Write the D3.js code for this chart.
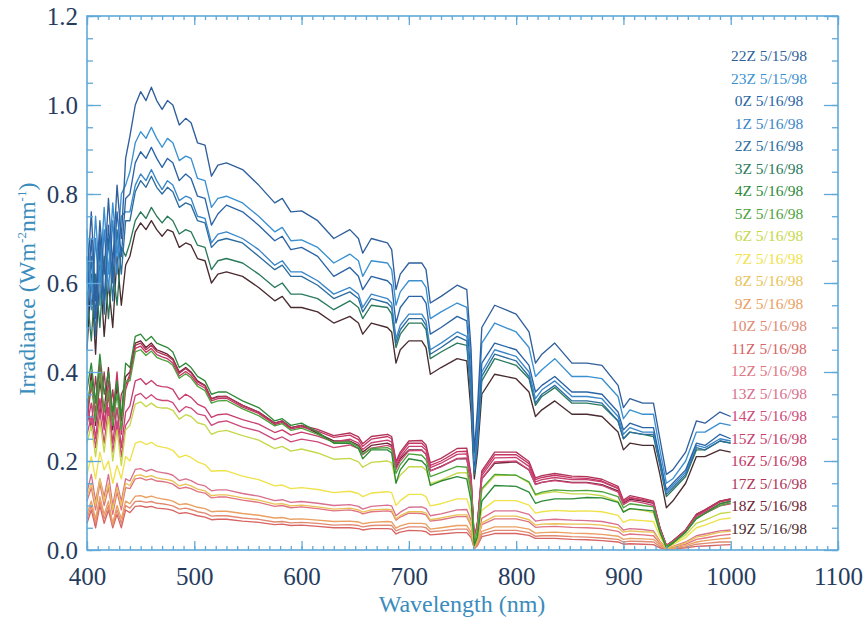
<!DOCTYPE html>
<html>
<head>
<meta charset="utf-8">
<script src="https://cdn.jsdelivr.net/npm/d3@7"></script>
<style>
  body { margin: 0; background: #ffffff; }
  svg { display: block; }
</style>
</head>
<body>
<svg id="chart" width="865" height="617"></svg>
<script>
// Sampling wavelengths (nm) shared by all spectra
const wavelengths = [400,404,408,412,416,420,424,428,432,436,
  440,445,450,455,460,465,470,475,480,
  486,492,497,503,510,516,522,530,545,560,575,582,590,600,
  615,630,645,653,657,665,680,684,688,692,700,
  712,716,720,730,745,754,758,761,764,768,780,
  800,812,818,824,836,852,866,880,895,900,906,918,928,
  934,940,946,958,968,976,990,1000];

// Irradiance spectra (W m-2 nm-1), one array per hour
const irr22Z = [0.60,0.76,0.56,0.74,0.62,0.79,0.64,0.82,0.70,0.88,
  0.93,1.00,1.03,1.01,1.04,1.01,0.99,1.01,1.00,
  0.955,0.97,0.96,0.915,0.91,0.84,0.865,0.87,0.855,0.82,0.78,0.79,0.76,0.762,
  0.74,0.70,0.72,0.70,0.667,0.70,0.69,0.675,0.585,0.62,0.645,
  0.645,0.63,0.555,0.57,0.595,0.585,0.45,0.22,0.32,0.50,0.55,
  0.53,0.49,0.42,0.44,0.465,0.42,0.42,0.415,0.37,0.32,0.34,0.33,0.33,
  0.25,0.17,0.18,0.22,0.29,0.285,0.31,0.30];
const irr23Z = [0.72,0.58,0.75,0.60,0.77,0.62,0.78,0.66,0.80,0.82,
  0.85,0.915,0.94,0.925,0.95,0.925,0.905,0.925,0.915,
  0.875,0.885,0.88,0.835,0.83,0.77,0.79,0.795,0.78,0.75,0.715,0.725,0.695,0.697,
  0.68,0.645,0.665,0.65,0.615,0.65,0.645,0.63,0.55,0.58,0.605,
  0.605,0.59,0.52,0.535,0.555,0.545,0.42,0.20,0.29,0.465,0.51,
  0.49,0.455,0.39,0.405,0.43,0.39,0.39,0.385,0.345,0.295,0.315,0.305,0.305,
  0.225,0.15,0.16,0.20,0.265,0.265,0.285,0.28];
const irr0Z = [0.55,0.70,0.52,0.71,0.56,0.73,0.60,0.76,0.66,0.79,
  0.80,0.87,0.895,0.88,0.905,0.88,0.86,0.88,0.87,
  0.83,0.845,0.835,0.795,0.79,0.73,0.755,0.775,0.76,0.73,0.695,0.705,0.675,0.68,
  0.66,0.615,0.635,0.615,0.585,0.615,0.605,0.595,0.51,0.545,0.57,
  0.57,0.555,0.485,0.50,0.525,0.515,0.39,0.19,0.27,0.42,0.465,
  0.45,0.415,0.355,0.37,0.39,0.355,0.355,0.35,0.31,0.27,0.285,0.275,0.275,
  0.205,0.135,0.15,0.18,0.24,0.235,0.26,0.25];
const irr1Z = [0.66,0.54,0.70,0.55,0.72,0.58,0.74,0.62,0.75,0.76,
  0.76,0.82,0.845,0.83,0.855,0.83,0.81,0.83,0.82,
  0.785,0.795,0.79,0.75,0.745,0.69,0.71,0.715,0.70,0.675,0.64,0.65,0.625,0.625,
  0.605,0.575,0.59,0.575,0.545,0.575,0.565,0.555,0.475,0.505,0.53,
  0.53,0.515,0.45,0.465,0.49,0.48,0.36,0.18,0.25,0.40,0.45,
  0.435,0.40,0.34,0.36,0.38,0.345,0.345,0.34,0.30,0.26,0.275,0.265,0.265,
  0.20,0.13,0.145,0.175,0.235,0.23,0.25,0.245];
const irr2Z = [0.50,0.66,0.48,0.68,0.53,0.70,0.56,0.72,0.62,0.74,
  0.74,0.805,0.83,0.815,0.84,0.815,0.80,0.815,0.805,
  0.77,0.78,0.775,0.74,0.735,0.68,0.695,0.70,0.69,0.66,0.63,0.64,0.615,0.615,
  0.595,0.565,0.58,0.565,0.535,0.565,0.555,0.545,0.465,0.495,0.52,
  0.52,0.505,0.44,0.455,0.48,0.47,0.35,0.175,0.245,0.39,0.44,
  0.425,0.39,0.33,0.35,0.37,0.335,0.335,0.33,0.29,0.25,0.265,0.26,0.26,
  0.195,0.125,0.14,0.17,0.23,0.225,0.245,0.24];
const irr3Z = [0.58,0.47,0.62,0.50,0.66,0.52,0.64,0.55,0.68,0.66,
  0.69,0.74,0.76,0.745,0.77,0.75,0.735,0.75,0.74,
  0.71,0.72,0.715,0.685,0.68,0.63,0.65,0.655,0.645,0.62,0.59,0.60,0.575,0.575,
  0.565,0.54,0.56,0.545,0.52,0.55,0.545,0.53,0.455,0.485,0.51,
  0.51,0.495,0.43,0.445,0.465,0.46,0.34,0.17,0.24,0.38,0.43,
  0.415,0.385,0.325,0.345,0.365,0.33,0.33,0.325,0.29,0.25,0.265,0.26,0.255,
  0.19,0.12,0.135,0.165,0.225,0.225,0.245,0.24];
const irr4Z = [0.36,0.42,0.33,0.44,0.35,0.40,0.31,0.38,0.30,0.42,
  0.41,0.48,0.485,0.47,0.48,0.465,0.46,0.455,0.445,
  0.41,0.42,0.41,0.39,0.38,0.35,0.355,0.355,0.335,0.32,0.29,0.295,0.28,0.285,
  0.265,0.24,0.24,0.228,0.205,0.225,0.225,0.218,0.15,0.18,0.205,
  0.20,0.19,0.145,0.155,0.165,0.16,0.11,0.01,0.03,0.11,0.145,
  0.143,0.13,0.105,0.11,0.115,0.115,0.118,0.117,0.107,0.085,0.093,0.09,0.088,
  0.04,0.005,0.015,0.04,0.07,0.082,0.104,0.11];
const irr5Z = [0.32,0.38,0.29,0.40,0.31,0.36,0.28,0.35,0.27,0.38,
  0.38,0.445,0.45,0.437,0.447,0.433,0.428,0.424,0.415,
  0.386,0.396,0.387,0.368,0.358,0.33,0.335,0.336,0.317,0.302,0.279,0.284,0.269,0.274,
  0.26,0.242,0.243,0.232,0.216,0.228,0.23,0.225,0.172,0.192,0.216,
  0.213,0.203,0.165,0.174,0.188,0.186,0.132,0.015,0.045,0.138,0.17,
  0.168,0.153,0.125,0.13,0.135,0.133,0.134,0.131,0.12,0.095,0.104,0.1,0.097,
  0.044,0.008,0.017,0.04,0.072,0.082,0.1,0.106];
const irr6Z = [0.24,0.28,0.21,0.29,0.22,0.30,0.20,0.27,0.19,0.27,
  0.28,0.328,0.333,0.322,0.33,0.321,0.319,0.319,0.314,
  0.294,0.304,0.3,0.286,0.281,0.26,0.266,0.269,0.257,0.247,0.228,0.233,0.222,0.227,
  0.218,0.204,0.206,0.198,0.186,0.197,0.2,0.196,0.152,0.168,0.187,
  0.187,0.18,0.149,0.157,0.173,0.174,0.126,0.016,0.047,0.135,0.167,
  0.168,0.151,0.123,0.127,0.131,0.126,0.126,0.122,0.109,0.086,0.093,0.089,0.084,
  0.038,0.008,0.015,0.034,0.06,0.067,0.082,0.085];
const irr7Z = [0.17,0.21,0.16,0.22,0.18,0.20,0.15,0.19,0.16,0.21,
  0.2,0.24,0.244,0.237,0.242,0.234,0.231,0.229,0.224,
  0.208,0.213,0.208,0.198,0.192,0.177,0.178,0.178,0.166,0.158,0.144,0.146,0.138,0.14,
  0.136,0.129,0.132,0.127,0.12,0.128,0.131,0.129,0.1,0.111,0.125,
  0.125,0.12,0.099,0.104,0.115,0.115,0.084,0.01,0.031,0.089,0.111,
  0.111,0.101,0.083,0.086,0.089,0.087,0.088,0.086,0.078,0.062,0.068,0.066,0.064,
  0.03,0.006,0.012,0.028,0.05,0.056,0.069,0.072];
const irr8Z = [0.12,0.15,0.10,0.16,0.11,0.15,0.09,0.14,0.10,0.15,
  0.145,0.167,0.169,0.164,0.167,0.162,0.16,0.158,0.155,
  0.144,0.148,0.144,0.137,0.133,0.122,0.124,0.124,0.117,0.112,0.103,0.104,0.099,0.101,
  0.097,0.092,0.094,0.09,0.085,0.09,0.092,0.09,0.07,0.077,0.086,
  0.086,0.083,0.068,0.072,0.079,0.079,0.058,0.007,0.022,0.061,0.076,
  0.076,0.068,0.056,0.058,0.059,0.058,0.058,0.056,0.05,0.04,0.043,0.041,0.04,
  0.018,0.004,0.007,0.016,0.029,0.032,0.04,0.042];
const irr9Z = [0.08,0.11,0.07,0.12,0.08,0.11,0.06,0.10,0.07,0.11,
  0.104,0.121,0.122,0.118,0.121,0.117,0.115,0.113,0.11,
  0.102,0.104,0.101,0.096,0.093,0.086,0.087,0.087,0.082,0.078,0.072,0.073,0.069,0.07,
  0.067,0.064,0.065,0.063,0.059,0.062,0.064,0.063,0.049,0.054,0.06,
  0.06,0.058,0.047,0.05,0.055,0.055,0.04,0.005,0.015,0.042,0.052,
  0.052,0.047,0.038,0.039,0.04,0.038,0.037,0.035,0.031,0.024,0.026,0.025,0.024,
  0.011,0.002,0.004,0.01,0.018,0.021,0.025,0.027];
const irr10Z = [0.07,0.10,0.06,0.11,0.07,0.10,0.055,0.09,0.06,0.10,
  0.094,0.109,0.11,0.107,0.109,0.105,0.104,0.102,0.099,
  0.092,0.094,0.091,0.086,0.083,0.076,0.077,0.077,0.072,0.069,0.063,0.064,0.061,0.062,
  0.06,0.056,0.057,0.055,0.052,0.055,0.056,0.055,0.043,0.047,0.052,
  0.052,0.05,0.041,0.043,0.047,0.047,0.034,0.004,0.013,0.036,0.044,
  0.044,0.039,0.031,0.032,0.032,0.03,0.029,0.027,0.024,0.018,0.02,0.019,0.018,
  0.008,0.002,0.003,0.007,0.013,0.015,0.018,0.018];
const irr11Z = [0.06,0.09,0.05,0.10,0.06,0.09,0.05,0.08,0.05,0.09,
  0.084,0.098,0.099,0.096,0.098,0.094,0.093,0.092,0.089,
  0.082,0.084,0.081,0.077,0.074,0.068,0.069,0.069,0.065,0.062,0.057,0.058,0.055,0.056,
  0.053,0.05,0.05,0.048,0.045,0.048,0.048,0.047,0.036,0.04,0.044,
  0.043,0.041,0.034,0.036,0.039,0.039,0.028,0.003,0.01,0.03,0.037,
  0.037,0.033,0.026,0.026,0.026,0.024,0.023,0.021,0.018,0.013,0.014,0.013,0.012,
  0.005,0.001,0.002,0.005,0.008,0.009,0.011,0.012];
const irr12Z = [0.11,0.14,0.09,0.15,0.10,0.14,0.08,0.13,0.09,0.14,
  0.138,0.16,0.162,0.157,0.16,0.155,0.154,0.152,0.148,
  0.138,0.141,0.138,0.131,0.128,0.117,0.119,0.119,0.112,0.107,0.098,0.1,0.095,0.097,
  0.093,0.088,0.09,0.086,0.081,0.086,0.088,0.086,0.067,0.074,0.083,
  0.082,0.079,0.065,0.068,0.075,0.075,0.054,0.006,0.02,0.057,0.07,
  0.07,0.063,0.051,0.052,0.053,0.051,0.05,0.048,0.042,0.033,0.036,0.034,0.032,
  0.015,0.003,0.006,0.013,0.024,0.027,0.033,0.035];
const irr13Z = [0.13,0.17,0.11,0.16,0.12,0.17,0.10,0.15,0.11,0.16,
  0.155,0.181,0.183,0.177,0.181,0.176,0.174,0.172,0.168,
  0.156,0.16,0.156,0.148,0.144,0.133,0.135,0.135,0.127,0.121,0.111,0.113,0.107,0.109,
  0.105,0.1,0.102,0.098,0.092,0.098,0.101,0.099,0.077,0.085,0.096,
  0.097,0.093,0.077,0.081,0.09,0.091,0.067,0.008,0.025,0.071,0.088,
  0.088,0.08,0.065,0.067,0.069,0.067,0.066,0.064,0.057,0.045,0.048,0.046,0.043,
  0.02,0.004,0.008,0.018,0.032,0.036,0.043,0.045];
const irr14Z = [0.26,0.30,0.23,0.31,0.24,0.32,0.22,0.29,0.21,0.28,
  0.296,0.347,0.352,0.34,0.349,0.339,0.336,0.336,0.331,
  0.31,0.322,0.319,0.306,0.302,0.28,0.287,0.29,0.276,0.267,0.248,0.254,0.243,0.249,
  0.243,0.23,0.236,0.228,0.214,0.229,0.235,0.231,0.181,0.2,0.223,
  0.224,0.215,0.178,0.187,0.206,0.207,0.15,0.02,0.056,0.16,0.198,
  0.2,0.18,0.147,0.152,0.156,0.151,0.151,0.145,0.13,0.102,0.111,0.106,0.1,
  0.046,0.009,0.018,0.041,0.073,0.082,0.099,0.104];
const irr15Z = [0.28,0.33,0.25,0.34,0.27,0.35,0.24,0.32,0.23,0.31,
  0.324,0.38,0.385,0.372,0.381,0.37,0.367,0.366,0.361,
  0.338,0.35,0.343,0.328,0.32,0.298,0.304,0.306,0.293,0.283,0.264,0.27,0.258,0.265,
  0.256,0.243,0.249,0.24,0.226,0.241,0.247,0.243,0.19,0.209,0.233,
  0.233,0.224,0.185,0.195,0.215,0.216,0.157,0.02,0.059,0.167,0.207,
  0.208,0.188,0.153,0.158,0.163,0.158,0.158,0.153,0.138,0.108,0.117,0.112,0.106,
  0.048,0.01,0.019,0.043,0.076,0.085,0.104,0.109];
const irr16Z = [0.29,0.37,0.31,0.42,0.28,0.38,0.30,0.40,0.26,0.36,
  0.39,0.453,0.458,0.444,0.453,0.439,0.434,0.43,0.42,
  0.391,0.401,0.392,0.373,0.364,0.335,0.34,0.341,0.321,0.307,0.282,0.287,0.272,0.277,
  0.267,0.253,0.258,0.248,0.233,0.249,0.255,0.25,0.195,0.215,0.24,
  0.24,0.23,0.19,0.2,0.221,0.222,0.162,0.02,0.061,0.173,0.214,
  0.214,0.194,0.158,0.163,0.168,0.162,0.161,0.155,0.139,0.109,0.118,0.113,0.107,
  0.049,0.01,0.02,0.044,0.078,0.088,0.108,0.113];
const irr17Z = [0.34,0.27,0.39,0.30,0.40,0.29,0.36,0.26,0.35,0.37,
  0.395,0.46,0.465,0.45,0.46,0.446,0.441,0.436,0.427,
  0.397,0.408,0.398,0.378,0.369,0.339,0.344,0.345,0.325,0.31,0.285,0.29,0.275,0.28,
  0.271,0.257,0.263,0.254,0.239,0.255,0.26,0.255,0.199,0.22,0.245,
  0.246,0.236,0.196,0.206,0.228,0.229,0.167,0.02,0.062,0.178,0.22,
  0.22,0.199,0.162,0.167,0.172,0.166,0.165,0.159,0.143,0.112,0.122,0.116,0.11,
  0.05,0.01,0.02,0.045,0.08,0.09,0.11,0.115];
const irr18Z = [0.30,0.40,0.28,0.38,0.31,0.41,0.27,0.37,0.29,0.39,
  0.40,0.465,0.47,0.455,0.465,0.45,0.445,0.44,0.43,
  0.40,0.41,0.40,0.38,0.37,0.34,0.345,0.345,0.325,0.31,0.285,0.29,0.275,0.28,
  0.262,0.245,0.245,0.235,0.22,0.235,0.24,0.235,0.185,0.205,0.225,
  0.225,0.215,0.178,0.188,0.205,0.205,0.15,0.02,0.06,0.16,0.195,
  0.198,0.18,0.148,0.152,0.157,0.152,0.152,0.147,0.133,0.105,0.114,0.11,0.105,
  0.05,0.01,0.02,0.045,0.08,0.09,0.11,0.115];
const irr19Z = [0.45,0.62,0.44,0.64,0.48,0.60,0.50,0.66,0.55,0.64,
  0.66,0.715,0.735,0.72,0.74,0.72,0.705,0.72,0.715,
  0.68,0.69,0.685,0.655,0.65,0.60,0.62,0.625,0.615,0.59,0.56,0.57,0.545,0.545,
  0.535,0.51,0.525,0.51,0.485,0.51,0.50,0.49,0.42,0.45,0.47,
  0.47,0.455,0.395,0.41,0.43,0.425,0.31,0.16,0.22,0.35,0.395,
  0.385,0.355,0.30,0.315,0.335,0.305,0.305,0.30,0.265,0.225,0.24,0.235,0.235,
  0.17,0.095,0.11,0.15,0.21,0.21,0.225,0.22];

// Legend entries (top to bottom) and the spectrum each one names
const hourLabels = ["22Z 5/15/98","23Z 5/15/98","0Z 5/16/98","1Z 5/16/98","2Z 5/16/98",
  "3Z 5/16/98","4Z 5/16/98","5Z 5/16/98","6Z 5/16/98","7Z 5/16/98","8Z 5/16/98",
  "9Z 5/16/98","10Z 5/16/98","11Z 5/16/98","12Z 5/16/98","13Z 5/16/98","14Z 5/16/98",
  "15Z 5/16/98","16Z 5/16/98","17Z 5/16/98","18Z 5/16/98","19Z 5/16/98"];
const hourSpectra = [irr22Z, irr23Z, irr0Z, irr1Z, irr2Z, irr3Z, irr4Z, irr5Z, irr6Z,
  irr7Z, irr8Z, irr9Z, irr10Z, irr11Z, irr12Z, irr13Z, irr14Z, irr15Z, irr16Z,
  irr17Z, irr18Z, irr19Z];
const hourColors = ["#2f5f9c","#3a90d0","#2a64a6","#3a86c8","#2c6c9e","#2b7a5c",
  "#2e8a38","#4ea23c","#c6d84a","#efe24a","#e8c256","#e9a062","#e08a72","#d86464",
  "#e07482","#d8708e","#cc4a7a","#c83e6e","#c43664","#b03458","#6e2434","#4a2c30"];

// Axis tick values
const xMajorTicks = [400,500,600,700,800,900,1000,1100];
const xMinorTicks = d3.range(400, 1101, 10);
const yMajorTicks = [0.0,0.2,0.4,0.6,0.8,1.0,1.2];
const yMinorTicks = d3.range(0, 1.2001, 0.05);

const svg = d3.select("#chart");
const plotLeft = 87, plotRight = 838, plotTop = 16, plotBottom = 550;
const axisColor = "#5fa9d9";
const labelColor = "#263c5e";
const serif = "'Liberation Serif','Times New Roman',serif";

const x = d3.scaleLinear().domain([400, 1100]).range([plotLeft, plotRight]);
const y = d3.scaleLinear().domain([0, 1.2]).range([plotBottom, plotTop]);

// Spectra
const line = d3.line().x(d => x(d[0])).y(d => y(d[1]));
const plot = svg.append("g");
for (let i = hourSpectra.length - 1; i >= 0; i--) {
  plot.append("path")
    .datum(d3.zip(wavelengths, hourSpectra[i]))
    .attr("fill", "none")
    .attr("stroke", hourColors[i])
    .attr("stroke-width", 1.35)
    .attr("stroke-linejoin", "round")
    .attr("d", line);
}

// Frame and inward ticks on all four sides
function styleAxis(g) {
  g.select(".domain").remove();
  g.selectAll(".tick line").attr("stroke", axisColor).attr("stroke-width", 1.3);
  g.selectAll(".tick text").attr("fill", labelColor)
    .style("font-family", serif).style("font-size", "25px");
}
svg.append("rect")
  .attr("x", plotLeft).attr("y", plotTop)
  .attr("width", plotRight - plotLeft).attr("height", plotBottom - plotTop)
  .attr("fill", "none").attr("stroke", axisColor).attr("stroke-width", 1.6);

svg.append("g").attr("transform", `translate(0,${plotBottom})`)
  .call(d3.axisBottom(x).tickValues(xMinorTicks).tickSize(-4).tickFormat("")).call(styleAxis);
svg.append("g").attr("transform", `translate(0,${plotBottom})`)
  .call(d3.axisBottom(x).tickValues(xMajorTicks).tickSize(-9).tickPadding(17)
    .tickFormat(d3.format("d"))).call(styleAxis);
svg.append("g").attr("transform", `translate(0,${plotTop})`)
  .call(d3.axisTop(x).tickValues(xMinorTicks).tickSize(-4).tickFormat("")).call(styleAxis);
svg.append("g").attr("transform", `translate(0,${plotTop})`)
  .call(d3.axisTop(x).tickValues(xMajorTicks).tickSize(-9).tickFormat("")).call(styleAxis);

svg.append("g").attr("transform", `translate(${plotLeft},0)`)
  .call(d3.axisLeft(y).tickValues(yMinorTicks).tickSize(-6).tickFormat("")).call(styleAxis);
svg.append("g").attr("transform", `translate(${plotLeft},0)`)
  .call(d3.axisLeft(y).tickValues(yMajorTicks).tickSize(-14).tickPadding(9)
    .tickFormat(d3.format(".1f"))).call(styleAxis);
svg.append("g").attr("transform", `translate(${plotRight},0)`)
  .call(d3.axisRight(y).tickValues(yMinorTicks).tickSize(-6).tickFormat("")).call(styleAxis);
svg.append("g").attr("transform", `translate(${plotRight},0)`)
  .call(d3.axisRight(y).tickValues(yMajorTicks).tickSize(-14).tickFormat("")).call(styleAxis);

// Axis titles
const titleColor = "#3a8cbc";
svg.append("text")
  .attr("x", 462).attr("y", 612)
  .attr("text-anchor", "middle")
  .attr("fill", titleColor)
  .style("font-family", serif).style("font-size", "24px")
  .text("Wavelength (nm)");

const yTitle = svg.append("text")
  .attr("transform", "translate(35,289) rotate(-90)")
  .attr("text-anchor", "middle")
  .attr("fill", titleColor)
  .style("font-family", serif).style("font-size", "24px");
yTitle.append("tspan").text("Irradiance (Wm");
yTitle.append("tspan").attr("dy", -9).style("font-size", "13px").text("-2");
yTitle.append("tspan").attr("dy", 9).text("nm");
yTitle.append("tspan").attr("dy", -9).style("font-size", "13px").text("-1");
yTitle.append("tspan").attr("dy", 9).text(")");

// Legend
const legend = svg.append("g");
hourLabels.forEach((lab, i) => {
  legend.append("text")
    .attr("x", 769).attr("y", 61 + i * 22.5)
    .attr("text-anchor", "middle")
    .attr("fill", hourColors[i])
    .style("font-family", serif).style("font-size", "15.5px")
    .text(lab);
});
</script>
</body>
</html>
